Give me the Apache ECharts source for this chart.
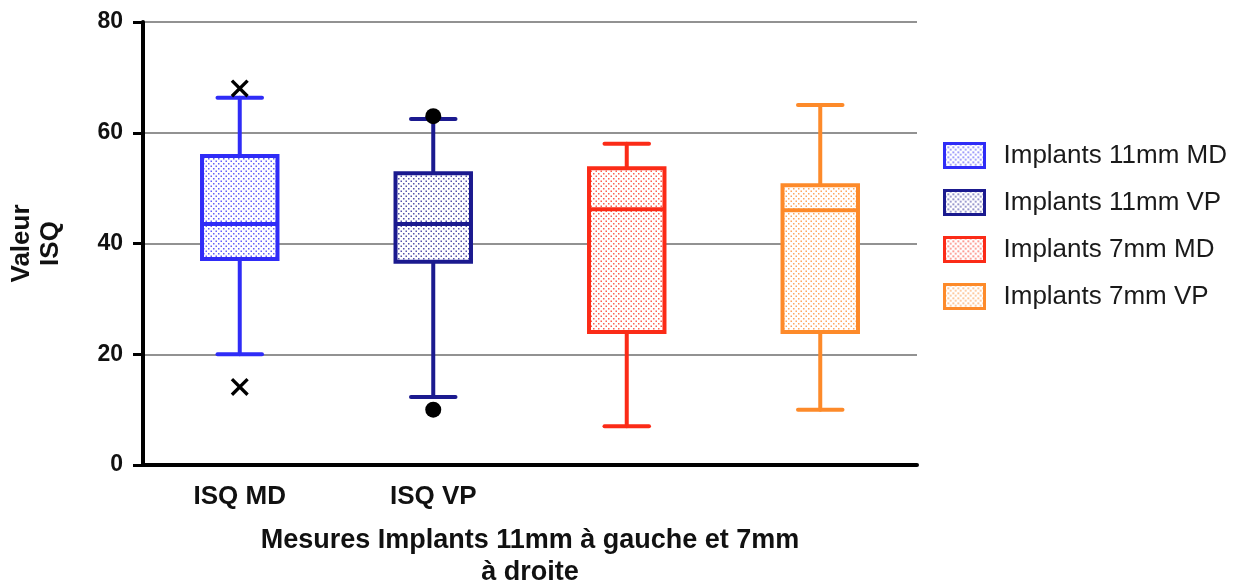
<!DOCTYPE html>
<html>
<head>
<meta charset="utf-8">
<script src="https://cdn.jsdelivr.net/npm/echarts@6/dist/echarts.min.js"></script>
<style>html,body{margin:0;padding:0;background:#fff;}#c{width:1243px;height:585px;}</style>
</head>
<body>
<div id="c"></div>
<script>
// ---- data ----
const categories = ['ISQ MD', 'ISQ VP', '', ' '];
const seriesNames = ['Implants 11mm MD', 'Implants 11mm VP', 'Implants 7mm MD', 'Implants 7mm VP'];
const whiskerLow = [20.0, 12.3, 7.0, 10.0];
const q1Vals     = [37.2, 36.7, 24.0, 24.0];
const medians    = [43.5, 43.5, 46.2, 46.0];
const q3Vals     = [55.8, 52.7, 53.6, 50.5];
const whiskerHigh= [66.3, 62.5, 58.0, 65.0];
const outliersMD = [68.0, 14.1];   // shown as crosses, category 0
const outliersVP = [63.0, 10.0];   // shown as dots, category 1
const yTicks = [0, 20, 40, 60, 80];

const colors = ['#2f2cf7', '#1b1a8f', '#fb2b17', '#fd8a2a'];

function makePattern(color) {
  const c = document.createElement('canvas');
  c.width = 5; c.height = 5;
  const ctx = c.getContext('2d');
  ctx.fillStyle = '#ffffff';
  ctx.fillRect(0, 0, 5, 5);
  ctx.globalAlpha = 0.75;
  ctx.fillStyle = color;
  ctx.fillRect(0.5, 0.5, 1.5, 1.5);
  ctx.fillRect(3, 3, 1.5, 1.5);
  return { image: c, repeat: 'repeat' };
}
const patterns = colors.map(makePattern);

function renderBox(params, api) {
  const x = api.value(0);
  const pLow = api.coord([x, api.value(1)]);
  const pQ1 = api.coord([x, api.value(2)]);
  const pMed = api.coord([x, api.value(3)]);
  const pQ3 = api.coord([x, api.value(4)]);
  const pHigh = api.coord([x, api.value(5)]);
  const band = api.size([1, 0])[0];
  const bw = band * 0.39;
  const cw = band * 0.23;
  const cx = pMed[0];
  const idx = params.seriesIndex;
  const stroke = colors[idx];
  const ls = { stroke: stroke, lineWidth: 4, lineCap: 'round' };
  return {
    type: 'group',
    children: [
      { type: 'line', shape: { x1: cx, y1: pHigh[1], x2: cx, y2: pQ3[1] }, style: ls },
      { type: 'line', shape: { x1: cx, y1: pQ1[1], x2: cx, y2: pLow[1] }, style: ls },
      { type: 'line', shape: { x1: cx - cw / 2, y1: pHigh[1], x2: cx + cw / 2, y2: pHigh[1] }, style: ls },
      { type: 'line', shape: { x1: cx - cw / 2, y1: pLow[1], x2: cx + cw / 2, y2: pLow[1] }, style: ls },
      { type: 'rect', shape: { x: cx - bw / 2, y: pQ3[1], width: bw, height: pQ1[1] - pQ3[1] },
        style: { fill: patterns[idx], stroke: stroke, lineWidth: 4 } },
      { type: 'line', shape: { x1: cx - bw / 2, y1: pMed[1], x2: cx + bw / 2, y2: pMed[1] },
        style: { stroke: stroke, lineWidth: 4 } }
    ]
  };
}

const boxSeries = seriesNames.map((name, i) => ({
  name: name,
  type: 'custom',
  renderItem: renderBox,
  encode: { x: 0, y: [1, 2, 3, 4, 5] },
  itemStyle: { color: colors[i] },
  data: [[i, whiskerLow[i], q1Vals[i], medians[i], q3Vals[i], whiskerHigh[i]]],
  z: 3
}));

const crossPath = 'path://M0,1.3L1.3,0L10,8.7L8.7,10Z M8.7,0L10,1.3L1.3,10L0,8.7Z';
const FONT = 'Liberation Sans, Arial, sans-serif';

const option = {
  animation: false,
  backgroundColor: '#ffffff',
  textStyle: { fontFamily: FONT },
  grid: { left: 143, right: 1243 - 917, top: 22, bottom: 120, outerBoundsMode: 'none', containLabel: false },
  legend: {
    orient: 'vertical',
    left: 938,
    top: 137,
    itemWidth: 40,
    itemHeight: 24,
    itemGap: 20,
    textStyle: { fontSize: 26, lineHeight: 24, color: '#1a1a1a', padding: [0, 0, 0, 14], fontFamily: FONT },
    data: seriesNames.map((n, i) => ({
      name: n, icon: 'rect',
      itemStyle: { color: patterns[i], borderColor: colors[i], borderWidth: 3 }
    }))
  },
  xAxis: {
    type: 'category',
    data: categories,
    boundaryGap: true,
    name: 'Mesures Implants 11mm à gauche et 7mm\nà droite',
    nameLocation: 'middle',
    nameGap: 60,
    nameTextStyle: { fontSize: 27, fontWeight: 'bold', color: '#111', lineHeight: 32, fontFamily: FONT },
    axisLine: { lineStyle: { color: '#000', width: 4 } },
    axisTick: { alignWithLabel: true, length: 12, lineStyle: { color: '#000', width: 3 } },
    axisLabel: { fontSize: 26, fontWeight: 'bold', color: '#111', margin: 19, interval: 0 },
    splitLine: { show: false }
  },
  yAxis: {
    type: 'value',
    min: yTicks[0],
    max: yTicks[yTicks.length - 1],
    interval: 20,
    name: 'Valeur\nISQ',
    nameLocation: 'middle',
    nameGap: 78,
    nameTextStyle: { fontSize: 26, fontWeight: 'bold', color: '#111', lineHeight: 29, fontFamily: FONT },
    axisLine: { show: true, lineStyle: { color: '#000', width: 4 } },
    axisTick: { show: true, length: 10, lineStyle: { color: '#000', width: 3 } },
    axisLabel: { fontSize: 23, fontWeight: 'bold', color: '#111', margin: 20 },
    splitLine: { show: true, lineStyle: { color: '#6e6e6e', width: 1.5 } }
  },
  series: boxSeries.concat([
    {
      name: 'outliers MD',
      type: 'scatter',
      symbol: crossPath,
      symbolSize: 18,
      itemStyle: { color: '#000', opacity: 1 },
      data: outliersMD.map(v => [0, v]),
      z: 5
    },
    {
      name: 'outliers VP',
      type: 'scatter',
      symbol: 'circle',
      symbolSize: 16,
      itemStyle: { color: '#000', opacity: 1 },
      data: outliersVP.map(v => [1, v]),
      z: 5
    }
  ])
};

const chart = echarts.init(document.getElementById('c'), null, { renderer: 'canvas' });
chart.setOption(option);
</script>
</body>
</html>
